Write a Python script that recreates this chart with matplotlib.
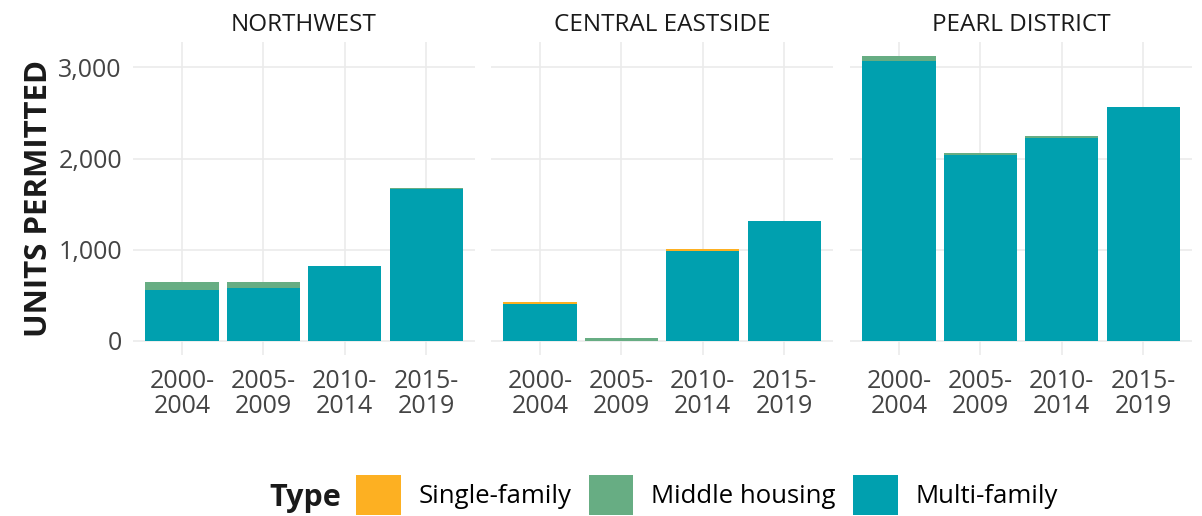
import numpy as np
import matplotlib.pyplot as plt
from matplotlib.patches import Patch
from matplotlib.ticker import FuncFormatter

plt.rcParams["font.family"] = ["Open Sans", "DejaVu Sans"]

periods = ["2000-\n2004", "2005-\n2009", "2010-\n2014", "2015-\n2019"]
districts = ["NORTHWEST", "CENTRAL EASTSIDE", "PEARL DISTRICT"]
types = ["Single-family", "Middle housing", "Multi-family"]
colors = ["#FDB022", "#67AD83", "#00A0AF"]

# units permitted per district, one list per period
single_family = [
    [0, 0, 0, 0],
    [22, 0, 22, 0],
    [0, 0, 0, 0],
]
middle_housing = [
    [87, 65, 0, 15],
    [0, 35, 0, 0],
    [55, 28, 22, 0],
]
multi_family = [
    [560, 582, 823, 1662],
    [400, 0, 990, 1320],
    [3066, 2037, 2222, 2568],
]

fig = plt.figure(figsize=(12.02, 5.16), dpi=100)
W, H = 1202, 516
panel_left = [133, 491, 850]
panel_w = 342
top_px, bot_px = 42, 355

x = np.arange(1, 5)
ymax = 3123
pad = ymax * 0.05

for i, name in enumerate(districts):
    ax = fig.add_axes([panel_left[i] / W, (H - bot_px) / H,
                       panel_w / W, (bot_px - top_px) / H])
    base = np.zeros(4)
    # stack multi-family at the bottom, then middle housing, then single-family
    for vals, c in [(multi_family[i], colors[2]),
                    (middle_housing[i], colors[1]),
                    (single_family[i], colors[0])]:
        v = np.array(vals, dtype=float)
        ax.bar(x, v, bottom=base, width=0.9, color=c, edgecolor="none", zorder=3)
        base += v
    ax.set_xlim(0.4, 4.6)
    ax.set_ylim(-pad, ymax + pad)
    ax.set_xticks(x)
    ax.set_xticklabels(periods, fontsize=18, color="#444444", linespacing=1.0)
    ax.set_yticks([0, 1000, 2000, 3000])
    ax.yaxis.set_major_formatter(FuncFormatter(lambda v, p: f"{int(v):,}"))
    ax.tick_params(axis="both", length=0, labelsize=18, colors="#444444")
    ax.tick_params(axis="x", pad=10)
    ax.tick_params(axis="y", pad=8)
    if i > 0:
        ax.set_yticklabels([])
    ax.grid(True, color="#EBEBEB", linewidth=1.2, zorder=0)
    for s in ax.spines.values():
        s.set_visible(False)
    ax.set_title(name, fontsize=17.5, fontweight="medium", color="#1a1a1a", pad=8)
    if i == 0:
        ax.set_ylabel("UNITS PERMITTED", fontsize=22.5, fontweight="bold",
                      color="#1a1a1a", labelpad=3)

handles = [Patch(facecolor=c, edgecolor="none") for c in colors]
fig.text(305 / W, 1 - 498 / H, "Type", fontsize=22, fontweight="bold",
         ha="center", va="center", color="#1a1a1a")
fig.legend(handles, types, loc="center", bbox_to_anchor=(707 / W, 1 - 495 / H),
           ncol=3, frameon=False, fontsize=18.5, handlelength=1.75, handleheight=2.0,
           handletextpad=0.7, columnspacing=0.66, borderpad=0)

fig.savefig("out.png", dpi=100)
